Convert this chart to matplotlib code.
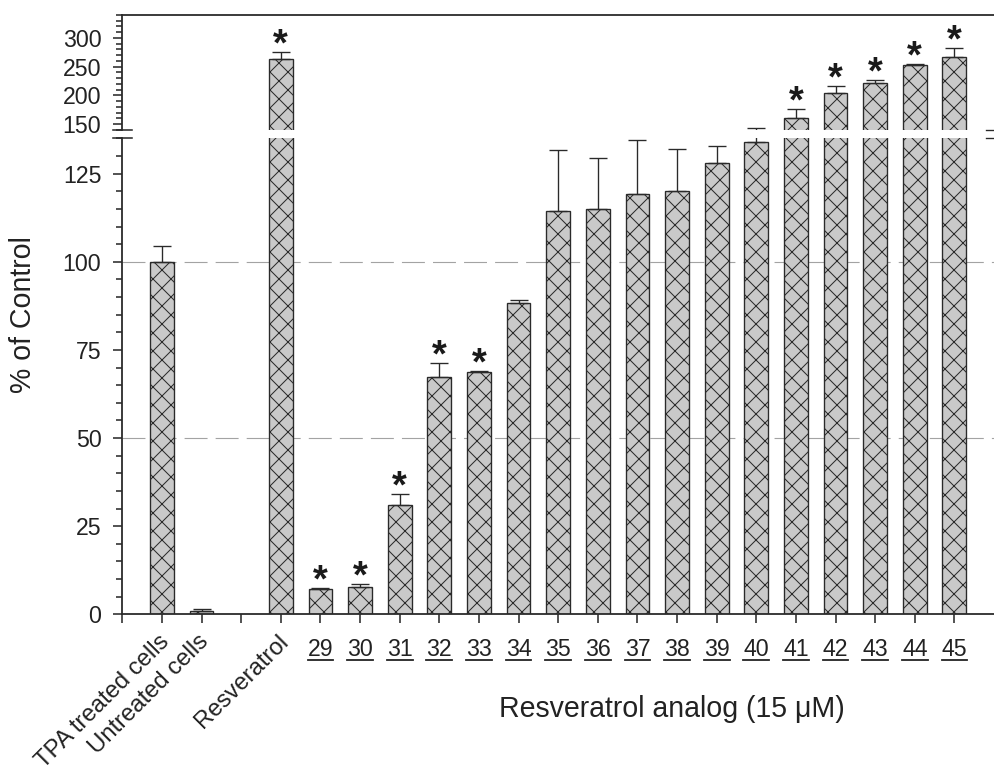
import matplotlib
matplotlib.use('Agg')
import matplotlib.pyplot as plt
import numpy as np
from matplotlib.ticker import MultipleLocator, FixedLocator
from matplotlib.lines import Line2D
import matplotlib.transforms as mtrans

plt.rcParams['font.family'] = ['Liberation Sans', 'DejaVu Sans']
plt.rcParams['hatch.linewidth'] = 0.45
plt.rcParams['lines.scale_dashes'] = False

# data (% of control, upward error)
names = ['TPA treated cells', 'Untreated cells', '', 'Resveratrol',
         '29', '30', '31', '32', '33', '34', '35', '36', '37', '38', '39',
         '40', '41', '42', '43', '44', '45']
pct = [100.0, 1.0, None, 263.3,
       7.2, 7.8, 31.0, 67.3, 68.7, 88.3, 114.4, 115.0, 119.2, 120.1, 128.1,
       134.0, 160.0, 203.6, 221.0, 252.9, 267.4]
err = [4.5, 0.4, None, 11.7,
       0.3, 0.9, 3.0, 4.0, 0.3, 0.9, 17.3, 14.5, 15.3, 11.9, 4.8,
       10.0, 16.0, 13.2, 5.8, 2.1, 14.6]
star = [False, False, False, True,
        True, True, True, True, True, False, False, False, False, False, False,
        False, True, True, True, True, True]

DPI = 162
W, H = 994, 765
ink = '#2a2a2a'
fill = '#c9c9c9'

fig = plt.figure(figsize=(W / DPI, H / DPI), dpi=DPI)
left = 122.3 / W
ax_lo = fig.add_axes([left, 1 - 614.3 / H, 1 - left, (614.3 - 138.4) / H])
ax_hi = fig.add_axes([left, 1 - 129.8 / H, 1 - left, (129.8 - 15.0) / H])

pos = np.arange(1, len(names) + 1)
keep = [i for i, v in enumerate(pct) if v is not None]
xs = pos[keep]
ys = np.array([pct[i] for i in keep])
es = np.array([err[i] for i in keep])

for ax in (ax_lo, ax_hi):
    ax.bar(xs, ys, width=0.6, color=fill, edgecolor=ink, linewidth=0.6,
           hatch='xxx', zorder=2)
    ax.errorbar(xs, ys, yerr=[np.zeros_like(es), es], fmt='none', ecolor=ink,
                elinewidth=0.6, capsize=4.2, capthick=0.6, zorder=3)
    ax.set_xlim(0, 22)
    for s in ax.spines.values():
        s.set_color(ink)
        s.set_linewidth(0.8)
    ax.spines['right'].set_visible(False)
    ax.tick_params(axis='y', which='major', length=4.1, width=0.7, color=ink,
                   labelsize=10.3, labelcolor='#222222', pad=5.2)
    ax.tick_params(axis='y', which='minor', length=2.7, width=0.7, color=ink)

# lower part 0-135
ax_lo.set_ylim(0, 135)
ax_lo.yaxis.set_major_locator(FixedLocator([0, 25, 50, 75, 100, 125]))
ax_lo.yaxis.set_minor_locator(MultipleLocator(5))
ax_lo.spines['top'].set_visible(False)
for ref in (50, 100):
    ax_lo.axhline(ref, color='#a3a3a3', linewidth=0.5, dashes=(10.2, 3.6), zorder=1)

ax_lo.set_xticks(np.arange(0, 22))
tick_txt = [''] + [n if n.isdigit() else '' for n in names]
ax_lo.set_xticklabels(tick_txt)
ax_lo.tick_params(axis='x', length=4.0, width=0.7, color=ink, labelsize=10.3,
                  labelcolor='#222222', pad=6.5)

# rotated control labels
off = mtrans.ScaledTranslation(4 / DPI, -24 / DPI, fig.dpi_scale_trans)
for p, n in zip(pos, names):
    if n and not n.isdigit():
        ax_lo.text(p, 0, n, transform=ax_lo.get_xaxis_transform() + off,
                   rotation=45, ha='right', va='center', rotation_mode='anchor',
                   fontsize=10.6, color='#222222')

# upper part 140-340
ax_hi.set_ylim(140, 340)
ax_hi.yaxis.set_major_locator(FixedLocator([150, 200, 250, 300]))
ax_hi.yaxis.set_minor_locator(MultipleLocator(10))
ax_hi.spines['bottom'].set_visible(False)
ax_hi.set_xticks([])

# asterisks above the error bars
for p, v, e, s in zip(pos, pct, err, star):
    if not s:
        continue
    top = v + e
    ax = ax_hi if top > 140 else ax_lo
    ax.annotate('*', (p, top), xytext=(0, -1.5), textcoords='offset points',
                ha='center', va='baseline', fontsize=17, fontweight='bold',
                color='#1a1a1a', annotation_clip=False)

# break marks on the y axis
axw = (1 - left) * W
d = 9.2 / axw
for ax, yy in ((ax_hi, 0), (ax_lo, 1)):
    ax.plot([-d, d], [yy, yy], transform=ax.transAxes, clip_on=False,
            color=ink, linewidth=0.7)
    ax.plot([1 - 8 / axw, 1], [yy, yy], transform=ax.transAxes, clip_on=False,
            color=ink, linewidth=0.6)

fig.text(23 / W, 1 - 314.5 / H, '% of Control', rotation=90, ha='center',
         va='center', fontsize=12.7, color='#222222')
fig.text(672 / W, 1 - 717 / H, 'Resveratrol analog (15 \u03bcM)', ha='center',
         va='baseline', fontsize=12.7, color='#222222')

# underline the analog numbers
fig.canvas.draw()
inv = fig.transFigure.inverted()
for lab in ax_lo.get_xticklabels():
    if lab.get_text():
        bb = lab.get_window_extent()
        (x0, y0), (x1, _) = inv.transform([(bb.x0, bb.y0 + 0.5), (bb.x1, bb.y0)])
        fig.add_artist(Line2D([x0, x1], [y0, y0], transform=fig.transFigure,
                              color='#222222', linewidth=0.8))

fig.savefig('out.png', dpi=DPI)
